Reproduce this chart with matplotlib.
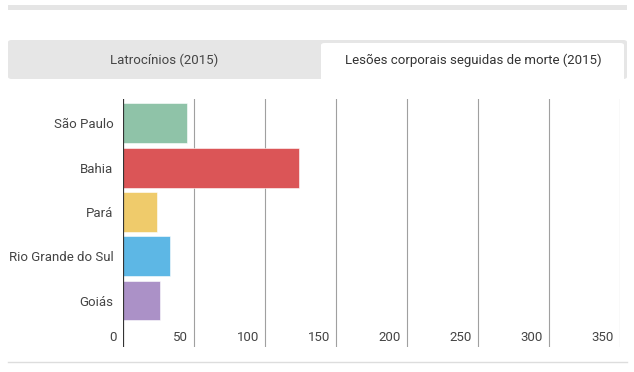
import matplotlib.pyplot as plt
from matplotlib.patches import Rectangle, FancyBboxPatch
from matplotlib.lines import Line2D

plt.rcParams['font.family'] = ['Roboto', 'DejaVu Sans']

# data
states = ['São Paulo', 'Bahia', 'Pará', 'Rio Grande do Sul', 'Goiás']
deaths = [45, 124, 24, 33, 26]
colors = ['#8fc3a8', '#db5557', '#efcb6b', '#5db7e5', '#ab91c7']
ticks = [0, 50, 100, 150, 200, 250, 300, 350]
tabs = ['Latrocínios (2015)', 'Lesões corporais seguidas de morte (2015)']

W, H = 634, 372


def fx(px):
    return px / W


def fy(py):
    return 1 - py / H


fig = plt.figure(figsize=(W / 100, H / 100), dpi=100)
fig.patch.set_facecolor('white')

# top gray strip
fig.patches.append(Rectangle((fx(8), fy(10)), fx(627) - fx(8), fy(5) - fy(10),
                             transform=fig.transFigure, color='#e5e5e5', lw=0))

# tab bar
fig.patches.append(FancyBboxPatch((fx(8), fy(79)), fx(627) - fx(8), fy(40) - fy(79),
                                  boxstyle='round,pad=0,rounding_size=0.006',
                                  transform=fig.transFigure, color='#e6e6e6', lw=0))
fig.patches.append(FancyBboxPatch((fx(321), fy(88)), fx(624) - fx(321), fy(43) - fy(88),
                                  boxstyle='round,pad=0,rounding_size=0.006',
                                  transform=fig.transFigure, color='white', lw=0))
fig.patches.append(Rectangle((fx(300), fy(95)), fx(630) - fx(300), fy(79) - fy(95),
                             transform=fig.transFigure, color='white', lw=0))
fig.text(fx(164), fy(60), tabs[0], ha='center', va='center', fontsize=9.5, color='#444444')
fig.text(fx(473), fy(60), tabs[1], ha='center', va='center', fontsize=9.5, color='#333333')

# bottom separator
fig.lines.append(Line2D([fx(8), fx(627)], [fy(362), fy(362)], transform=fig.transFigure,
                        color='#dddddd', lw=1))

ax = fig.add_axes([fx(123), fy(347), fx(620) - fx(123), fy(99) - fy(347)])
ax.set_facecolor('none')

y = list(range(len(states)))
ax.barh(y, deaths, height=0.9, color=colors, edgecolor='white', linewidth=0.4, zorder=3)

ax.set_xlim(0, 350)
ax.set_ylim(5.05, -0.55)

for t in ticks[1:]:
    ax.axvline(t, color='#a0a0a0', lw=0.8, zorder=1)
ax.axvline(0, color='#333333', lw=1.6, zorder=4)

for t in ticks:
    ax.annotate(str(t), xy=(t, 0), xycoords=('data', 'axes fraction'),
                xytext=(-4.3, 2.3), textcoords='offset points',
                ha='right', va='bottom', fontsize=9.5, color='#444444')

ax.set_xticks([])
ax.set_yticks(y)
ax.set_yticklabels(states, fontsize=9.5, color='#444444')
ax.tick_params(axis='y', length=0, pad=7)
for s in ax.spines.values():
    s.set_visible(False)

fig.savefig('out.png', dpi=100)
